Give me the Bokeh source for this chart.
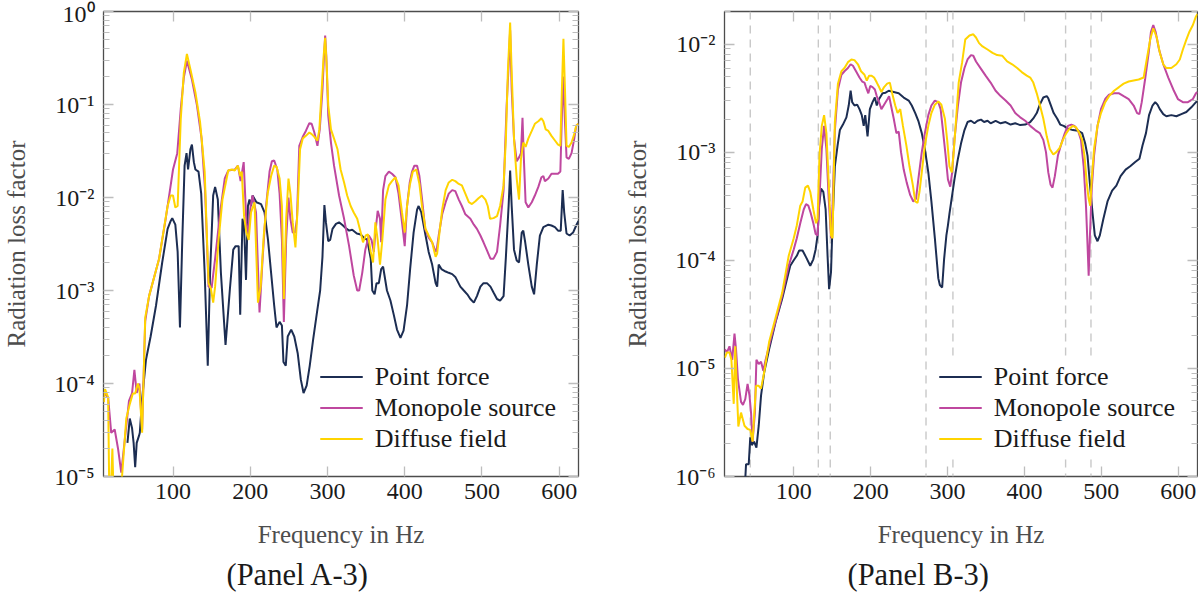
from bokeh.plotting import figure
from bokeh.models import (Range1d, FixedTicker, Legend, LegendItem, LinearAxis, LogAxis,
                          Span, Title, CustomJSTickFormatter)
from bokeh.layouts import row
from bokeh.embed import file_html
from bokeh.resources import INLINE

# ---------------- data ----------------
x_ticks = [100, 200, 300, 400, 500, 600]
series_labels = ["Point force", "Monopole source", "Diffuse field"]

# Panel A-3
a3_pf_f = [41, 44, 47, 49, 51, 53, 56, 57, 60, 65,
           71, 78, 86, 93, 97, 99, 103, 106, 109, 112,
           115, 117.5, 119.5, 122.5, 124.5, 127, 129, 133, 136.5, 141,
           145, 148, 152, 154.5, 158, 162, 168, 173.5, 178, 181,
           185, 187, 190, 192, 194.5, 197, 199, 201, 203, 208,
           214, 218.5, 223, 227, 231, 234, 238, 241, 243, 246,
           248.5, 253, 257, 261.5, 265.5, 269, 273, 277, 281.5, 287,
           290.5, 293.5, 296, 298, 301, 303.5, 306.5, 311, 315, 319,
           323.5, 328, 332, 338, 343, 347, 351.5, 356, 358, 361,
           363.5, 366.5, 369.5, 372, 377, 381.5, 386, 390, 394.5, 398.5,
           403, 407, 411.5, 416, 418, 421.5, 427, 431, 435.5, 440,
           442, 444, 447.5, 453, 457, 461.5, 465.5, 472, 476.5, 481,
           485, 489.5, 493.5, 498, 502, 506.5, 511, 515, 519.5, 523.5,
           528, 531, 534.5, 536.5, 538.5, 541.5, 545, 548, 551.5, 553.5,
           556, 560, 564.5, 567.5, 571, 575, 579.5, 586, 590, 594.5,
           598.5, 602, 604.5, 606.5, 609.5, 613.5, 618, 622, 625]
a3_pf_v = [2.3e-5, 4.2e-5, 3.3e-5, 2.3e-5, 1.26e-5, 2.3e-5, 2.75e-5, 2.95e-5, 6.8e-5, 1.8e-4,
           3.2e-4, 6.9e-4, 2.0e-3, 4.6e-3, 5.6e-3, 6.0e-3, 5.1e-3, 2.6e-3, 4.0e-4, 3.5e-3,
           2.2e-2, 3.0e-2, 2.0e-2, 3.3e-2, 3.7e-2, 2.4e-2, 2.0e-2, 1.9e-2, 1.1e-2, 1.55e-3,
           1.55e-4, 1.55e-3, 1.05e-2, 1.3e-2, 9.5e-3, 1.55e-3, 2.6e-4, 1.0e-3, 2.75e-3, 3.0e-3,
           3.0e-3, 5.5e-4, 5.9e-3, 5.0e-3, 1.3e-3, 8.1e-3, 9.5e-3, 8.1e-3, 1.05e-2, 8.9e-3,
           8.5e-3, 6.9e-3, 3.5e-3, 1.55e-3, 6.9e-4, 4.0e-4, 4.6e-4, 4.2e-4, 1.7e-4, 1.55e-4,
           3.2e-4, 3.8e-4, 3.2e-4, 2.1e-4, 1.1e-4, 7.9e-5, 9.5e-5, 1.55e-4, 3.0e-4, 6.3e-4,
           1.0e-3, 2.3e-3, 8.3e-3, 5.4e-3, 3.4e-3, 3.5e-3, 4.6e-3, 5.2e-3, 5.4e-3, 5.1e-3,
           4.7e-3, 4.4e-3, 4.5e-3, 4.1e-3, 4.0e-3, 3.7e-3, 3.5e-3, 2.2e-3, 1.0e-3, 9.1e-4,
           1.2e-3, 1.2e-3, 1.7e-3, 1.8e-3, 1.0e-3, 7.8e-4, 5.4e-4, 3.8e-4, 3.1e-4, 3.7e-4,
           6.9e-4, 1.7e-3, 4.2e-3, 7.4e-3, 8.1e-3, 6.9e-3, 3.9e-3, 2.6e-3, 1.9e-3, 1.2e-3,
           1.1e-3, 1.9e-3, 1.7e-3, 1.6e-3, 1.55e-3, 1.5e-3, 1.4e-3, 1.1e-3, 1.0e-3, 9.1e-4,
           8.1e-4, 7.4e-4, 8.7e-4, 1.1e-3, 1.2e-3, 1.2e-3, 1.1e-3, 9.5e-4, 8.1e-4, 7.8e-4,
           8.7e-4, 2.3e-3, 8.1e-3, 1.95e-2, 8.1e-3, 2.75e-3, 2.1e-3, 2.0e-3, 4.2e-3, 4.4e-3,
           3.3e-3, 1.9e-3, 1.1e-3, 9.1e-4, 1.9e-3, 3.9e-3, 4.8e-3, 5.1e-3, 5.0e-3, 4.8e-3,
           4.4e-3, 4.4e-3, 1.2e-2, 6.9e-3, 4.1e-3, 3.9e-3, 4.2e-3, 5.0e-3, 5.6e-3]

a3_mp_f = [10.5, 16, 20, 24.5, 29, 33, 43, 47, 50, 53,
           56.5, 60, 64, 69, 82, 90.5, 95, 100, 105.5, 110,
           114, 118, 124.5, 131, 137, 141.5, 146, 150, 154.5, 161,
           167, 171.5, 180, 184, 187.5, 191.5, 195, 197, 200.5, 203,
           207.5, 212, 216, 220.5, 225, 228, 231, 235, 238, 241,
           243.5, 246.5, 249.5, 252, 255, 258, 260.5, 263.5, 268, 272,
           276.5, 279.5, 283, 287, 290, 293.5, 295.5, 297, 298.5, 301,
           304.5, 308.5, 315, 321.5, 328, 334, 338.5, 341, 345, 349,
           353.5, 357, 360, 362, 365, 368, 369.5, 372, 375, 379.5,
           383.5, 388, 392, 396.5, 400, 403, 406.5, 409.5, 412.5, 416,
           419, 422.5, 426.5, 431, 435.5, 439, 441, 444, 448.5, 453,
           457, 461.5, 465.5, 470, 474, 478.5, 485, 489.5, 493.5, 498,
           502, 506.5, 511, 515, 519.5, 523.5, 528, 532, 534.5, 536.5,
           538.5, 541.5, 545, 548, 550.5, 552.5, 554, 556.5, 560, 564.5,
           568.5, 573, 577, 579.5, 581.5, 586, 590, 594.5, 598.5, 601.5,
           603.5, 605, 607.5, 609.5, 612.5, 616, 619.5, 622, 625]
a3_mp_v = [7.9e-5, 7.1e-5, 2.95e-5, 3.2e-5, 1.95e-5, 1.1e-5, 6.5e-5, 7.9e-5, 1.4e-4, 7.9e-5,
           1.0e-4, 3.2e-5, 4.7e-4, 8.7e-4, 2.2e-3, 5.9e-3, 1.05e-2, 2.0e-2, 3.0e-2, 8.9e-2,
           0.195, 0.295, 0.186, 9.8e-2, 4.3e-2, 1.2e-2, 1.1e-3, 1.07e-3, 2.2e-3, 6.9e-3,
           1.6e-2, 1.95e-2, 2.0e-2, 2.2e-2, 1.5e-2, 2.4e-2, 5.4e-3, 3.9e-3, 8.1e-3, 1.05e-2,
           6.9e-3, 5.8e-4, 2.2e-3, 8.1e-3, 1.9e-2, 2.45e-2, 2.5e-2, 2.0e-2, 1.1e-2, 3.5e-3,
           4.6e-4, 3.5e-3, 1.0e-2, 5.9e-3, 4.2e-3, 4.2e-3, 5.9e-3, 3.6e-2, 4.5e-2, 5.2e-2,
           6.3e-2, 6.2e-2, 5.0e-2, 3.6e-2, 5.4e-2, 0.145, 0.33, 0.55, 0.33, 7.6e-2,
           3.9e-2, 2.2e-2, 1.05e-2, 5.9e-3, 3.0e-3, 1.45e-3, 1.0e-3, 1.0e-3, 1.55e-3, 2.75e-3,
           3.9e-3, 3.5e-3, 2.6e-3, 4.2e-3, 7.2e-3, 5.9e-3, 3.3e-3, 1.2e-2, 1.7e-2, 1.9e-2,
           1.8e-2, 1.65e-2, 1.1e-2, 5.4e-3, 3.0e-3, 8.1e-3, 1.45e-2, 1.9e-2, 2.2e-2, 2.2e-2,
           1.7e-2, 9.5e-3, 4.6e-3, 3.7e-3, 3.3e-3, 2.75e-3, 2.6e-3, 3.9e-3, 6.6e-3, 8.9e-3,
           1.1e-2, 1.2e-2, 1.17e-2, 9.5e-3, 8.1e-3, 6.6e-3, 5.9e-3, 5.1e-3, 4.6e-3, 3.9e-3,
           3.3e-3, 2.7e-3, 2.2e-3, 2.2e-3, 2.6e-3, 5.0e-3, 1.2e-2, 9.8e-2, 0.26, 0.63,
           0.145, 4.3e-2, 2.45e-2, 2.7e-2, 3.0e-2, 7.2e-2, 3.0e-2, 8.9e-3, 7.8e-3, 8.9e-3,
           1.05e-2, 1.3e-2, 1.65e-2, 1.7e-2, 1.5e-2, 1.6e-2, 1.8e-2, 1.8e-2, 1.8e-2, 1.9e-2,
           7.6e-2, 0.2, 6.5e-2, 2.7e-2, 2.6e-2, 3.0e-2, 4.3e-2, 5.9e-2, 6.2e-2]

a3_df_f = [10.5, 12, 16, 18, 21.5, 24, 30, 34, 39.5, 44,
           48, 51, 54.5, 56.5, 60, 64, 69, 82, 93, 97,
           100, 103, 106, 110, 114, 118, 122.5, 129, 135, 141,
           146, 149, 152, 154.5, 159, 164, 171.5, 176, 180, 184,
           187, 189, 192, 195, 198, 201, 205.5, 210, 213.5, 217.5,
           222.5, 227, 231, 234, 238, 241, 243.5, 246.5, 249.5, 252,
           255, 258.5, 261.5, 264.5, 268, 272, 276.5, 279.5, 283, 287,
           289.5, 292.5, 295, 297, 299, 301, 304.5, 308.5, 313, 317,
           321.5, 325.5, 330, 334, 338.5, 343, 346, 349.5, 352.5, 356,
           359, 362, 365, 368, 371, 375, 379.5, 383.5, 388, 392,
           396.5, 400, 403, 406.5, 410.5, 415, 419, 422.5, 427, 431,
           435.5, 440, 442, 445, 448.5, 453, 457, 461.5, 465.5, 470,
           474, 478.5, 483, 487, 491.5, 495.5, 500, 504.5, 507.5, 510.5,
           515, 519.5, 523.5, 528, 531, 533.5, 536.5, 538.5, 541.5, 545,
           548, 550.5, 553.5, 556.5, 560, 564.5, 568.5, 573, 577, 579.5,
           582.5, 586, 590, 594.5, 598.5, 601.5, 603.5, 605.5, 607.5, 609.5,
           612.5, 616, 619.5, 622, 625]
a3_df_v = [6.3e-5, 8.7e-5, 7.1e-5, 3e-6, 2.0e-5, 3e-6, 3e-6, 1.0e-5, 4.2e-5, 6.0e-5,
           7.8e-5, 7.8e-5, 1.0e-4, 8.9e-5, 2.95e-5, 5.1e-4, 8.7e-4, 2.2e-3, 8.1e-3, 1.05e-2,
           1.05e-2, 7.8e-3, 8.1e-3, 6.9e-2, 0.22, 0.35, 0.24, 0.135, 6.5e-2, 1.9e-2,
           1.2e-3, 1.05e-3, 7.4e-4, 1.1e-3, 3.5e-3, 9.5e-3, 1.95e-2, 2.0e-2, 1.95e-2, 2.2e-2,
           1.7e-2, 1.9e-2, 6.3e-3, 4.2e-3, 3.5e-3, 6.9e-3, 8.9e-3, 7.4e-4, 1.1e-3, 3.9e-3,
           1.1e-2, 1.7e-2, 2.2e-2, 2.15e-2, 1.6e-2, 8.1e-3, 8.1e-4, 5.9e-3, 1.6e-2, 1.1e-2,
           5.4e-3, 2.9e-3, 8.1e-3, 3.3e-2, 4.3e-2, 4.6e-2, 5.0e-2, 4.8e-2, 4.5e-2, 4.1e-2,
           5.4e-2, 0.145, 0.33, 0.52, 0.26, 9.8e-2, 5.4e-2, 4.3e-2, 3.3e-2, 2.0e-2,
           1.45e-2, 1.05e-2, 8.1e-3, 6.9e-3, 5.9e-3, 4.2e-3, 3.3e-3, 3.9e-3, 4.0e-3, 2.6e-3,
           2.0e-3, 5.4e-3, 3.5e-3, 1.9e-3, 3.5e-3, 9.5e-3, 1.35e-2, 1.5e-2, 1.65e-2, 1.35e-2,
           6.9e-3, 4.2e-3, 8.1e-3, 1.35e-2, 1.9e-2, 2.0e-2, 1.4e-2, 7.9e-3, 4.6e-3, 3.9e-3,
           3.3e-3, 2.3e-3, 2.5e-3, 4.2e-3, 7.4e-3, 1.2e-2, 1.45e-2, 1.55e-2, 1.5e-2, 1.4e-2,
           1.35e-2, 1.1e-2, 8.9e-3, 8.5e-3, 9.1e-3, 9.8e-3, 1.05e-2, 9.5e-3, 8.1e-3, 5.9e-3,
           6.0e-3, 6.3e-3, 8.1e-3, 1.35e-2, 4.3e-2, 0.22, 0.76, 0.22, 4.3e-2, 1.6e-2,
           9.5e-3, 2.6e-2, 3.9e-2, 3.5e-2, 4.3e-2, 5.2e-2, 6.2e-2, 6.6e-2, 7.1e-2, 6.6e-2,
           5.4e-2, 5.2e-2, 4.6e-2, 4.1e-2, 3.7e-2, 3.6e-2, 0.145, 0.51, 0.145, 3.6e-2,
           3.5e-2, 3.9e-2, 4.8e-2, 5.9e-2, 6.2e-2]

# Panel B-3
b3_pf_f = [35, 38, 41.5, 43.5, 45.5, 48.5, 51.5, 54.5, 57.5, 61.5,
           68, 76.5, 85, 91.5, 95.5, 100, 104, 107, 111.5, 116,
           121.5, 125.5, 128.5, 131, 133, 135.5, 138.5, 141.5, 144, 146,
           148.5, 150.5, 153.5, 157, 160, 164, 168.5, 171.5, 174, 176,
           179, 182.5, 185.5, 188.5, 191, 193, 196, 199, 202.5, 205.5,
           208, 211, 215.5, 219.5, 223.5, 230, 236.5, 243, 249.5, 253.5,
           258, 262, 266.5, 270.5, 275, 279, 283.5, 288, 290, 293,
           295.5, 298.5, 300.5, 302.5, 306, 309, 313.5, 317.5, 322, 326,
           330.5, 335, 339, 343.5, 347.5, 352, 356, 362.5, 369, 375.5,
           382, 388, 394.5, 401, 407.5, 411.5, 416, 420, 424.5, 429,
           431, 434, 438, 442.5, 446.5, 451, 456.5, 463, 469.5, 475,
           479, 482, 485, 488.5, 491.5, 495, 498, 502.5, 508, 514,
           519.5, 525, 531.5, 537.5, 544, 549.5, 553.5, 558, 562, 566.5,
           570, 573, 576, 580.5, 584.5, 591, 597.5, 604, 610.5, 617,
           623, 625]
b3_pf_v = [5e-7, 1.3e-6, 1.3e-6, 2.3e-6, 1.95e-6, 2.1e-6, 1.85e-6, 2.95e-6, 5.6e-6, 9.1e-6,
           1.5e-5, 2.7e-5, 4.4e-5, 6.8e-5, 8.9e-5, 1.0e-4, 1.1e-4, 1.23e-4, 1.23e-4, 1.07e-4,
           8.9e-5, 1.02e-4, 1.26e-4, 1.7e-4, 3.2e-4, 4.6e-4, 4.3e-4, 2.95e-4, 1.1e-4, 5.4e-5,
           7.8e-5, 2.2e-4, 7.4e-4, 1.15e-3, 1.6e-3, 1.8e-3, 2.1e-3, 2.7e-3, 3.7e-3, 2.9e-3,
           2.7e-3, 2.75e-3, 2.5e-3, 2.2e-3, 1.75e-3, 2.2e-3, 1.4e-3, 2.5e-3, 2.9e-3, 3.2e-3,
           2.7e-3, 3.1e-3, 3.5e-3, 3.55e-3, 3.7e-3, 3.6e-3, 3.5e-3, 3.2e-3, 3.0e-3, 2.7e-3,
           2.3e-3, 1.95e-3, 1.5e-3, 1.07e-3, 6.5e-4, 3.5e-4, 1.6e-4, 6.8e-5, 5.9e-5, 5.6e-5,
           1.02e-4, 1.7e-4, 2.1e-4, 2.7e-4, 4.0e-4, 5.6e-4, 8.7e-4, 1.2e-3, 1.6e-3, 1.9e-3,
           1.95e-3, 1.85e-3, 1.95e-3, 2.0e-3, 1.9e-3, 1.95e-3, 1.85e-3, 1.95e-3, 1.85e-3, 1.9e-3,
           1.8e-3, 1.85e-3, 1.78e-3, 1.8e-3, 1.9e-3, 2.05e-3, 2.3e-3, 2.75e-3, 3.2e-3, 3.3e-3,
           3.15e-3, 2.75e-3, 2.3e-3, 2.05e-3, 1.8e-3, 1.75e-3, 1.65e-3, 1.6e-3, 1.58e-3, 1.5e-3,
           1.2e-3, 9.3e-4, 5.2e-4, 2.75e-4, 1.7e-4, 1.5e-4, 1.7e-4, 2.4e-4, 3.5e-4, 4.4e-4,
           4.9e-4, 6.0e-4, 6.9e-4, 7.4e-4, 8.1e-4, 8.7e-4, 1.15e-3, 1.5e-3, 2.2e-3, 2.7e-3,
           2.9e-3, 2.75e-3, 2.5e-3, 2.25e-3, 2.15e-3, 2.2e-3, 2.15e-3, 2.25e-3, 2.35e-3, 2.6e-3,
           2.9e-3, 2.95e-3]

b3_mp_f = [10.5, 13, 16.5, 20, 23, 25, 27.5, 31.5, 34, 37,
           40, 42.5, 44.5, 46.5, 49.5, 51.5, 54.5, 57.5, 60.5, 63.5,
           70, 76.5, 85, 93.5, 100, 104, 108.5, 113, 116, 119,
           122, 125.5, 128.5, 131, 133, 136.5, 139.5, 142.5, 145.5, 148.5,
           150.5, 153.5, 157.5, 162, 166, 170.5, 174, 177, 181, 185.5,
           189, 192, 194, 197, 199.5, 202.5, 205.5, 208, 211, 214,
           217.5, 222, 224, 226.5, 230, 233.5, 236.5, 239.5, 243, 247,
           251.5, 255.5, 259, 262, 266.5, 270.5, 275, 279, 283.5, 288,
           291, 294, 297.5, 300.5, 303.5, 306, 309, 313.5, 317.5, 322,
           326, 330.5, 333.5, 337, 343.5, 349.5, 356, 362.5, 369, 375.5,
           382, 388, 394.5, 401, 407.5, 414, 420, 424.5, 428, 431,
           434, 436.5, 439.5, 443.5, 448, 452.5, 456.5, 461, 465, 469.5,
           473.5, 477, 480, 482, 483.5, 485, 487.5, 490.5, 495, 499.5,
           505, 510, 516.5, 523, 529, 535.5, 542, 546.5, 549.5, 552.5,
           557, 561.5, 564.5, 567.5, 570.5, 575, 580.5, 587, 593.5, 599.5,
           606, 612.5, 619, 623, 625]
b3_mp_v = [1.5e-5, 1.4e-5, 1.6e-5, 1.2e-5, 2.1e-5, 1.5e-5, 7.9e-6, 4.9e-6, 4.6e-6, 5.2e-6,
           7.2e-6, 5.6e-6, 3.9e-6, 2.1e-6, 3.9e-6, 1.2e-5, 1.1e-5, 1.15e-5, 9.5e-6, 1.2e-5,
           1.85e-5, 2.75e-5, 4.7e-5, 8.9e-5, 1.26e-4, 1.6e-4, 2.2e-4, 2.95e-4, 3.3e-4, 3.2e-4,
           2.75e-4, 2.2e-4, 1.75e-4, 1.7e-4, 3.2e-4, 1.07e-3, 1.75e-3, 1.07e-3, 3.7e-4, 1.6e-4,
           3.2e-4, 1.6e-3, 3.8e-3, 5.2e-3, 5.6e-3, 6.0e-3, 6.5e-3, 6.3e-3, 5.6e-3, 4.9e-3,
           4.5e-3, 4.4e-3, 4.0e-3, 3.5e-3, 4.1e-3, 4.0e-3, 3.8e-3, 3.3e-3, 2.9e-3, 2.5e-3,
           2.75e-3, 3.1e-3, 3.3e-3, 2.7e-3, 2.05e-3, 1.5e-3, 1.55e-3, 1.0e-3, 6.9e-4, 5.2e-4,
           4.0e-4, 3.5e-4, 3.7e-4, 5.6e-4, 1.0e-3, 1.5e-3, 2.2e-3, 2.7e-3, 3.0e-3, 2.9e-3,
           2.5e-3, 1.6e-3, 9.3e-4, 5.6e-4, 4.8e-4, 6.5e-4, 1.3e-3, 2.7e-3, 4.4e-3, 6.0e-3,
           7.2e-3, 7.9e-3, 7.8e-3, 6.9e-3, 5.9e-3, 5.1e-3, 4.4e-3, 3.7e-3, 3.3e-3, 3.0e-3,
           2.7e-3, 2.3e-3, 2.1e-3, 1.95e-3, 1.75e-3, 1.6e-3, 1.5e-3, 1.3e-3, 1.0e-3, 6.5e-4,
           5.0e-4, 4.7e-4, 6.0e-4, 9.3e-4, 1.2e-3, 1.5e-3, 1.75e-3, 1.8e-3, 1.75e-3, 1.6e-3,
           1.3e-3, 7.4e-4, 3.2e-4, 1.4e-4, 7.2e-5, 1.6e-4, 4.6e-4, 9.3e-4, 1.75e-3, 2.5e-3,
           3.1e-3, 3.4e-3, 3.5e-3, 3.5e-3, 3.3e-3, 3.1e-3, 2.7e-3, 2.3e-3, 2.25e-3, 2.9e-3,
           4.8e-3, 8.3e-3, 1.3e-2, 1.5e-2, 1.3e-2, 8.9e-3, 6.5e-3, 4.9e-3, 3.8e-3, 3.1e-3,
           2.9e-3, 2.9e-3, 3.1e-3, 3.5e-3, 3.6e-3]

b3_df_f = [10.5, 13, 16.5, 19, 22, 24, 26, 28, 31.5, 36,
           40, 43.5, 46.5, 48.5, 51, 54.5, 57.5, 61.5, 68, 76.5,
           85, 93.5, 100, 104, 108.5, 111.5, 115, 118.5, 121.5, 125.5,
           129, 131, 133.5, 136.5, 139.5, 142.5, 145.5, 148.5, 150.5, 153.5,
           157.5, 162, 166, 170.5, 175, 179, 183.5, 187.5, 192, 195,
           198, 201, 204.5, 208, 211, 214, 217.5, 221.5, 225, 228,
           232, 235, 238.5, 242, 246.5, 250.5, 255, 258, 261, 263.5,
           266.5, 270.5, 275, 279, 283.5, 288, 292, 296.5, 299.5, 302.5,
           305.5, 308, 311.5, 314.5, 319, 323, 328.5, 333.5, 337, 341,
           345.5, 352, 358.5, 364.5, 371, 377.5, 384, 390.5, 396.5, 403,
           407.5, 411.5, 416, 420, 424.5, 429, 433, 437.5, 441.5, 446,
           450, 454.5, 458.5, 463, 467, 471.5, 475, 478, 481, 483.5,
           485.5, 487.5, 490.5, 495, 499.5, 505, 510, 516.5, 523, 529,
           535.5, 542, 548.5, 555, 559, 563.5, 567.5, 572, 576, 580.5,
           584.5, 591, 597.5, 602, 606, 610.5, 614.5, 619, 623, 625]
b3_df_v = [1.26e-5, 1.4e-5, 1.4e-5, 1.2e-5, 4.7e-6, 1.6e-5, 6.5e-6, 2.9e-6, 3.9e-6, 2.95e-6,
           2.75e-6, 2.7e-6, 2.1e-6, 3.6e-6, 6.9e-6, 6.9e-6, 6.5e-6, 9.1e-6, 1.75e-5, 2.95e-5,
           5.0e-5, 1.1e-4, 1.6e-4, 2.1e-4, 3.2e-4, 3.5e-4, 4.7e-4, 4.9e-4, 4.3e-4, 2.95e-4,
           2.2e-4, 2.4e-4, 9.3e-4, 1.75e-3, 2.2e-3, 1.5e-3, 5.2e-4, 1.7e-4, 1.6e-4, 1.9e-3,
           4.3e-3, 5.6e-3, 6.0e-3, 6.8e-3, 7.2e-3, 7.1e-3, 6.5e-3, 5.6e-3, 5.2e-3, 4.6e-3,
           5.1e-3, 5.1e-3, 4.9e-3, 4.4e-3, 4.0e-3, 3.6e-3, 4.0e-3, 4.3e-3, 4.4e-3, 3.5e-3,
           2.7e-3, 2.3e-3, 2.5e-3, 1.75e-3, 1.15e-3, 7.4e-4, 4.9e-4, 3.5e-4, 3.4e-4, 4.3e-4,
           6.5e-4, 1.15e-3, 1.75e-3, 2.3e-3, 2.75e-3, 2.95e-3, 2.75e-3, 2.05e-3, 1.3e-3, 7.4e-4,
           6.5e-4, 1.0e-3, 2.2e-3, 4.4e-3, 6.8e-3, 1.1e-2, 1.2e-2, 1.23e-2, 1.15e-2, 1.02e-2,
           9.5e-3, 8.9e-3, 8.3e-3, 7.9e-3, 7.8e-3, 6.9e-3, 6.5e-3, 6.0e-3, 5.5e-3, 5.1e-3,
           4.9e-3, 4.4e-3, 3.5e-3, 2.75e-3, 2.05e-3, 1.4e-3, 1.07e-3, 9.5e-4, 1.0e-3, 1.1e-3,
           1.3e-3, 1.5e-3, 1.65e-3, 1.75e-3, 1.7e-3, 1.5e-3, 1.3e-3, 9.3e-4, 5.2e-4, 3.7e-4,
           3.2e-4, 5.6e-4, 1.07e-3, 1.75e-3, 2.3e-3, 2.9e-3, 3.3e-3, 3.7e-3, 4.0e-3, 4.3e-3,
           4.5e-3, 4.6e-3, 4.7e-3, 4.9e-3, 7.2e-3, 1.1e-2, 1.4e-2, 1.15e-2, 8.3e-3, 6.5e-3,
           6.0e-3, 6.0e-3, 6.5e-3, 7.2e-3, 8.9e-3, 1.1e-2, 1.3e-2, 1.5e-2, 1.8e-2, 1.9e-2]

b3_modes = [43.5, 132, 147.5, 272, 307, 453.5, 486.5]

# ---------------- style ----------------
FONT = "Liberation Serif"
COLORS = ["#1c2d52", "#bf479f", "#ffd400"]
TICK_COLOR = "#bdbdbd"
LABEL_GRAY = "#4d4d4d"

SUP_JS = """
const sup = {"-": "\u207b", "0": "\u2070", "1": "\u00b9", "2": "\u00b2", "3": "\u00b3",
             "4": "\u2074", "5": "\u2075", "6": "\u2076", "7": "\u2077", "8": "\u2078", "9": "\u2079"};
const e = Math.round(Math.log10(tick));
return "10" + String(e).split("").map(c => sup[c]).join("");
"""


def style_ticks(ax, minor=True):
    ax.axis_line_color = None
    ax.major_tick_in = 10
    ax.major_tick_out = 0
    ax.major_tick_line_color = TICK_COLOR
    ax.major_tick_line_width = 1.3
    if minor:
        ax.minor_tick_in = 6
        ax.minor_tick_out = 0
        ax.minor_tick_line_color = TICK_COLOR
        ax.minor_tick_line_width = 1.1
    else:
        ax.minor_tick_line_color = None


def make_panel(width, border_left, border_right, ymin, ymax, decades, series, caption, modes=None):
    p = figure(width=width, height=597, y_axis_type="log",
               x_range=Range1d(10, 625), y_range=Range1d(ymin, ymax),
               output_backend="svg", toolbar_location=None,
               min_border_left=border_left, min_border_right=border_right,
               min_border_top=11, min_border_bottom=121)
    p.grid.visible = False
    p.outline_line_color = "#4d4d4d"
    p.outline_line_width = 1.3
    p.background_fill_color = "white"
    p.border_fill_color = "white"

    minors = [m * 10.0 ** e for e in decades[:-1] for m in range(2, 10)]
    yt = FixedTicker(ticks=[10.0 ** e for e in decades], minor_ticks=minors)
    xt = FixedTicker(ticks=x_ticks)

    xa = p.xaxis[0]
    xa.ticker = xt
    style_ticks(xa, minor=False)
    xa.major_label_text_font = FONT
    xa.major_label_text_font_size = "24px"
    xa.major_label_text_color = "#1a1a1a"
    xa.major_label_standoff = 7
    xa.axis_label = "Frequency in Hz"
    xa.axis_label_text_font = FONT
    xa.axis_label_text_font_size = "25px"
    xa.axis_label_text_font_style = "normal"
    xa.axis_label_text_color = LABEL_GRAY
    xa.axis_label_standoff = 19

    ya = p.yaxis[0]
    ya.ticker = yt
    ya.formatter = CustomJSTickFormatter(code=SUP_JS)
    style_ticks(ya)
    ya.major_label_text_font = FONT
    ya.major_label_text_font_size = "24px"
    ya.major_label_text_color = "#1a1a1a"
    ya.major_label_standoff = 9
    ya.axis_label = "Radiation loss factor"
    ya.axis_label_text_font = FONT
    ya.axis_label_text_font_size = "25px"
    ya.axis_label_text_font_style = "normal"
    ya.axis_label_text_color = LABEL_GRAY
    ya.axis_label_standoff = 21

    blank = CustomJSTickFormatter(code="return '';")
    top = LinearAxis(ticker=xt, formatter=blank, major_label_text_font_size="0px",
                     major_label_standoff=0)
    style_ticks(top, minor=False)
    p.add_layout(top, "above")
    right = LogAxis(ticker=yt, formatter=blank, major_label_text_font_size="0px",
                    major_label_standoff=0)
    style_ticks(right)
    p.add_layout(right, "right")

    if modes:
        for m in modes:
            p.add_layout(Span(location=m, dimension="height", line_color="#c8c8c8",
                              line_width=1.4, line_dash="8 6", level="underlay"))

    items = []
    for (fx, vy), col, lab in zip(series, COLORS, series_labels):
        r = p.line(fx, vy, line_color=col, line_width=2)
        items.append(LegendItem(label=lab, renderers=[r]))

    leg = Legend(items=items, location="bottom_right",
                 label_text_font=FONT, label_text_font_size="26px", label_text_color="#1a1a1a",
                 glyph_width=43, glyph_height=31, label_height=31, label_standoff=12,
                 spacing=0, padding=8, margin=22,
                 border_line_color=None, background_fill_color="white", background_fill_alpha=1.0)
    p.add_layout(leg)

    t = Title(text=caption, align="left", offset=123, text_font=FONT,
              text_font_size="30.5px", text_font_style="normal", text_color="#1a1a1a",
              standoff=10)
    p.add_layout(t, "below")
    return p


pA = make_panel(621, 98, 43, 1e-5, 1.0, [-5, -4, -3, -2, -1, 0],
                [(a3_pf_f, a3_pf_v), (a3_mp_f, a3_mp_v), (a3_df_f, a3_df_v)],
                "(Panel A-3)")
pB = make_panel(577, 98, 1, 1e-6, 2e-2, [-6, -5, -4, -3, -2, -1],
                [(b3_pf_f, b3_pf_v), (b3_mp_f, b3_mp_v), (b3_df_f, b3_df_v)],
                "(Panel B-3)", modes=b3_modes)

layout = row(pA, pB, spacing=0)
open("out.html", "w").write(file_html(layout, INLINE))
